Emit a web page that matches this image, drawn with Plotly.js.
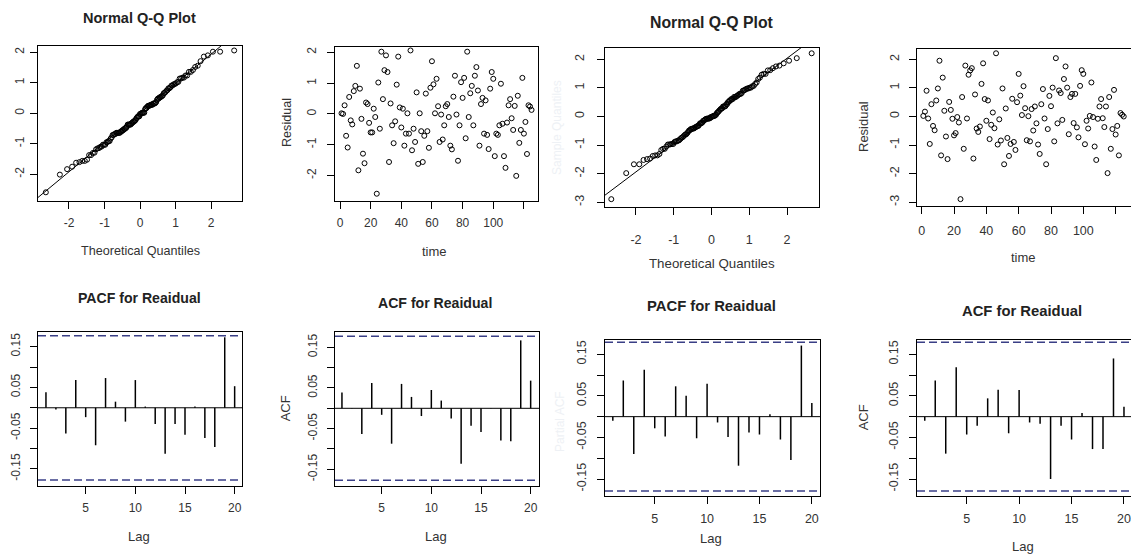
<!DOCTYPE html>
<html><head><meta charset="utf-8">
<script src="https://cdn.plot.ly/plotly-3.0.1.min.js"></script>
<style>html,body{margin:0;padding:0;background:#fff;}#chart{width:1131px;height:554px;}</style>
</head><body><div id="chart"></div>
<script>
// ---- data ----
const residual1 = [
 0.02, 0.00, 0.28, -0.71, -1.09, 0.55, -0.21, -0.34, 0.74, 0.91,
 1.56, -1.83, 0.82, -0.16, -1.29, -1.60, 0.37, 0.32, -0.29, -0.60,
 -0.60, 0.17, -0.10, -2.59, 1.02, -0.48, 2.02, 0.48, 1.42, 1.90,
 1.36, -1.56, 0.34, -0.37, -0.95, -0.24, 0.95, 1.86, 0.21, -0.44,
 0.17, -1.03, -0.64, 0.02, -0.64, 2.06, -1.18, -0.48, -0.91, 0.70,
 -1.62, 0.02, -0.56, -1.56, -0.71, 0.66, -0.56, -1.10, 0.85, 1.71,
 0.96, 0.02, 1.14, 0.25, -0.91, -0.02, -0.83, -0.37, 0.25, 0.32,
 -0.10, -1.03, -1.15, 0.56, 1.24, -0.02, -1.52, -0.37, 1.03, 0.52,
 1.17, -0.79, 2.02, -0.10, 0.67, 0.91, -0.37, 1.24, 1.52, 0.76,
 -1.03, 0.32, 0.52, -0.64, 0.44, -0.68, -1.14, 0.82, 1.36, 1.14,
 -1.37, -0.64, -0.68, -0.37, 0.98, -0.32, -1.37, -1.75, -0.28, 0.28,
 0.48, -0.14, -0.52, 0.26, -2.01, 0.59, -0.94, -0.52, 1.17, -0.64,
 -0.26, -1.30, 0.28, 0.24, 0.13
];
const residual2 = [
 0.02, 0.17, 0.90, -0.07, -0.96, 0.43, -0.33, -0.48, 0.56, 0.98,
 1.95, -1.36, 1.36, 0.20, -0.70, -1.49, 0.51, 0.23, -0.08, -0.66,
 -0.58, -0.02, -0.21, -2.89, 0.68, -1.13, 1.78, -0.07, 1.46, 1.61,
 1.69, -1.47, 0.77, -0.42, -0.54, -0.35, 1.14, 1.86, 0.61, -0.15,
 0.56, -0.79, -0.29, 0.14, -0.41, 2.21, -0.98, -0.10, -0.84, 0.98,
 -1.67, 0.28, -0.75, -1.38, -0.96, 0.62, -0.89, -1.17, 0.50, 1.49,
 0.73, 0.05, 1.06, 0.29, -0.83, 0.01, -0.87, 0.26, -0.49, 0.35,
 -0.24, -0.98, -1.31, 0.43, 0.96, -0.07, -1.67, -0.44, 0.72, 0.36,
 1.01, -0.87, 2.04, -0.24, 0.91, 0.82, -0.12, 1.31, 1.75, 1.01,
 -0.62, 0.68, 0.79, -0.23, 0.79, -0.38, -0.73, 1.07, 1.62,
 1.49, -0.97, -0.15, -0.42, 0.02, 1.19, -0.02, -1.05, -1.52, -0.08,
 0.35, 0.61, -0.06, -0.37, 0.35, -1.98, 0.68, -1.13, -0.44, 0.93,
 -0.63, -0.33, -1.36, 0.12, 0.06, 0.00
];
const lags = [1,2,3,4,5,6,7,8,9,10,11,12,13,14,15,16,17,18,19,20];
const pacf1 = [0.038,-0.004,-0.063,0.068,-0.023,-0.092,0.073,0.015,-0.034,0.068,0.003,-0.040,-0.113,-0.040,-0.066,0.003,-0.074,-0.096,0.173,0.053];
const acf1  = [0.039,0.001,-0.063,0.062,-0.016,-0.087,0.060,0.028,-0.019,0.045,0.019,-0.025,-0.136,-0.043,-0.058,0.001,-0.079,-0.081,0.167,0.068];
const pacf2 = [-0.010,0.087,-0.090,0.113,-0.028,-0.048,0.073,0.050,-0.052,0.079,-0.014,-0.049,-0.118,-0.038,-0.043,0.006,-0.055,-0.104,0.171,0.033];
const acf2  = [-0.010,0.087,-0.089,0.119,-0.043,-0.022,0.044,0.065,-0.040,0.064,-0.014,-0.017,-0.150,-0.022,-0.055,0.009,-0.078,-0.078,0.140,0.024];
const ciBound1 = 0.177;
const ciBound2 = 0.179;
const qqTicks = [-2,-1,0,1,2];
const qqTickText = ['-2','-1','0','1','2'];
const resTicks2 = [-3,-2,-1,0,1,2];
const resTickText2 = ['-3','-2','-1','0','1','2'];
const timeTicks = [0,20,40,60,80,100,120];
const timeTickText = ['0','20','40','60','80','100',''];
const lagTicks = [5,10,15,20];
const lagTickText = ['5','10','15','20'];
const acfTicks = [-0.15,-0.10,-0.05,0,0.05,0.10,0.15];
const acfTickText = ['-0.15','','-0.05','','0.05','','0.15'];

// ---- QQ plot derivation (standard normal Q-Q of the residuals above) ----
function qnorm(p){
  const a=[-3.969683028665376e+01,2.209460984245205e+02,-2.759285104469687e+02,1.383577518672690e+02,-3.066479806614716e+01,2.506628277459239e+00];
  const b=[-5.447609879822406e+01,1.615858368580409e+02,-1.556989798598866e+02,6.680131188771972e+01,-1.328068155288572e+01];
  const c=[-7.784894002430293e-03,-3.223964580411365e-01,-2.400758277161838e+00,-2.549732539343734e+00,4.374664141464968e+00,2.938163982698783e+00];
  const d=[7.784695709041462e-03,3.224671290700398e-01,2.445134137142996e+00,3.754408661907416e+00];
  const pl=0.02425;
  if(p<pl){const q=Math.sqrt(-2*Math.log(p));return (((((c[0]*q+c[1])*q+c[2])*q+c[3])*q+c[4])*q+c[5])/((((d[0]*q+d[1])*q+d[2])*q+d[3])*q+1);}
  if(p>1-pl){const q=Math.sqrt(-2*Math.log(1-p));return -(((((c[0]*q+c[1])*q+c[2])*q+c[3])*q+c[4])*q+c[5])/((((d[0]*q+d[1])*q+d[2])*q+d[3])*q+1);}
  const q=p-0.5,r=q*q;
  return (((((a[0]*r+a[1])*r+a[2])*r+a[3])*r+a[4])*r+a[5])*q/(((((b[0]*r+b[1])*r+b[2])*r+b[3])*r+b[4])*r+1);
}
function quant7(s,p){const h=(s.length-1)*p,lo=Math.floor(h);return s[lo]+(h-lo)*((s[Math.min(lo+1,s.length-1)])-s[lo]);}
function qq(res){
  const n=res.length;
  const y=res.slice().sort((u,v)=>u-v);
  const x=y.map((_,i)=>qnorm((i+0.5)/n));
  const y1=quant7(y,0.25),y3=quant7(y,0.75),x1=qnorm(0.25),x3=qnorm(0.75);
  const slope=(y3-y1)/(x3-x1),inter=y1-slope*x1;
  return {x,y,lx:[-4,4],ly:[-4*slope+inter,4*slope+inter]};
}
const qq1=qq(residual1), qq2=qq(residual2);
const time1=residual1.map((_,i)=>i+1), time2=residual2.map((_,i)=>i+1);
function stems(v){return {x:lags.flatMap(l=>[l,l,null]), y:v.flatMap(a=>[0,a,null])};}

// ---- layout geometry (pixels) ----
const W=1131,H=554,FONT='"Liberation Sans", Arial, sans-serif';
const boxes={1:[38,242,46,201],2:[335,538,47,201],3:[605,819,48,207],4:[917,1131,49,206],
             5:[38,242,332,486],6:[335,539,332,486],7:[605,820,340,496],8:[917,1131,340,496]};
const ranges={1:[[-2.873,2.873],[-2.875,2.207]],2:[[-3.26,129.2],[-2.826,2.172]],
              3:[[-2.819,2.846],[-3.164,2.395]],4:[[-2.91,129.5],[-3.13,2.36]],
              5:[[0.198,20.74],[-0.192,0.186]],6:[[0.30,20.84],[-0.191,0.1876]],
              7:[[0.253,20.78],[-0.1909,0.1844]],8:[[0.26,20.67],[-0.1909,0.1844]]};
const tickSize={1:12,2:12,3:12.5,4:12.5,5:12,6:12,7:12.5,8:12.5};
const xStand={1:4,2:4,3:14,4:6,5:4,6:4,7:4,8:4};
const yStand={1:1,2:6,3:8,4:5,5:5,6:5,7:6,8:6};
const xt={1:[qqTicks,qqTickText],2:[timeTicks,timeTickText],3:[qqTicks,qqTickText],4:[timeTicks,timeTickText],
          5:[lagTicks,lagTickText],6:[lagTicks,lagTickText],7:[lagTicks,lagTickText],8:[lagTicks,lagTickText]};
const yt={1:[qqTicks,qqTickText],2:[qqTicks,qqTickText],3:[resTicks2,resTickText2],4:[resTicks2,resTickText2],
          5:[acfTicks,acfTickText],6:[acfTicks,acfTickText],7:[acfTicks,acfTickText],8:[acfTicks,acfTickText]};

const layout={width:W,height:H,margin:{l:0,r:0,t:0,b:0},paper_bgcolor:'#fff',plot_bgcolor:'#fff',
  showlegend:false,font:{family:FONT,color:'#333'},shapes:[],annotations:[]};
for(let k=1;k<=8;k++){
  const b=boxes[k],sfx=k===1?'':String(k);
  const base={showline:true,mirror:true,linecolor:'#000',linewidth:1,ticks:'outside',ticklen:7,tickcolor:'#000',
    tickwidth:1,showgrid:false,zeroline:false,fixedrange:true,tickfont:{family:FONT,size:tickSize[k],color:'#333'}};
  layout['xaxis'+sfx]=Object.assign({},base,{domain:[b[0]/W,b[1]/W],range:ranges[k][0],anchor:'y'+sfx,tickmode:'array',
    tickvals:xt[k][0],ticktext:xt[k][1],ticklabelstandoff:xStand[k]});
  layout['yaxis'+sfx]=Object.assign({},base,{domain:[1-b[3]/H,1-b[2]/H],range:ranges[k][1],anchor:'x'+sfx,tickmode:'array',
    tickvals:yt[k][0],ticktext:yt[k][1],tickangle:-90,ticklabelstandoff:yStand[k]});
}
// zero and confidence lines for correlograms
[[5,ciBound1],[6,ciBound1],[7,ciBound2],[8,ciBound2]].forEach(([k,ci])=>{
  layout.shapes.push({type:'line',xref:'x'+k+' domain',x0:0,x1:1,yref:'y'+k,y0:0,y1:0,line:{color:'#000',width:1}});
  [ci,-ci].forEach(v=>layout.shapes.push({type:'line',xref:'x'+k+' domain',x0:0,x1:1,yref:'y'+k,y0:v,y1:v,
    line:{color:'#3a3f86',width:1.5,dash:'8px,4px'}}));
});
function ann(text,px,py,size,opts){
  layout.annotations.push(Object.assign({text:text,xref:'paper',yref:'paper',x:px/W,y:1-py/H,xanchor:'center',yanchor:'middle',
    showarrow:false,font:{family:FONT,size:size,color:'#333'}},opts||{}));
}
const bold=(s,c)=>({font:{family:FONT,size:s,color:c||'#222',weight:'bold'}});
const faint={textangle:-90,font:{family:FONT,size:12,color:'#eef1f5'}};
ann('Normal Q-Q Plot',139,18,14.5,bold(14.5));
ann('Theoretical Quantiles',140,251,12.6);
ann('time',434.5,251,13);
ann('Residual',287,123,12.6,{textangle:-90});
ann('Normal Q-Q Plot',711.5,22.7,15.8,bold(15.8));
ann('Theoretical Quantiles',711.5,263.3,13.3);
ann('Sample Quantiles',557,128,12,faint);
ann('Residual',863,127,13,{textangle:-90});
ann('time',1023,257.3,13);
ann('PACF for Reaidual',139,298.3,14.1,bold(14.1));
ann('Lag',139,536.7,13);
ann('ACF for Reaidual',434.5,303.3,14.1,bold(14.1));
ann('ACF',285,408.3,13,{textangle:-90});
ann('Lag',435.8,536.7,13);
ann('PACF for Reaidual',711,306,14.8,bold(14.8));
ann('Lag',710.8,538.3,13);
ann('Partial ACF',560,422,12,faint);
ann('ACF for Reaidual',1022.3,311,14.8,bold(14.8));
ann('ACF',863.3,417,13,{textangle:-90});
ann('Lag',1023.3,546.7,13);

const pt={mode:'markers',marker:{symbol:'circle-open',size:5,color:'#000',line:{width:1,color:'#000'}},hoverinfo:'skip'};
const ln={mode:'lines',line:{color:'#000',width:1},hoverinfo:'skip'};
const st={mode:'lines',line:{color:'#000',width:1.5},hoverinfo:'skip'};
const data=[
  Object.assign({x:qq1.lx,y:qq1.ly,xaxis:'x',yaxis:'y'},ln),
  Object.assign({x:qq1.x,y:qq1.y,xaxis:'x',yaxis:'y'},pt),
  Object.assign({x:time1,y:residual1,xaxis:'x2',yaxis:'y2'},pt),
  Object.assign({x:qq2.lx,y:qq2.ly,xaxis:'x3',yaxis:'y3'},ln),
  Object.assign({x:qq2.x,y:qq2.y,xaxis:'x3',yaxis:'y3'},pt),
  Object.assign({x:time2,y:residual2,xaxis:'x4',yaxis:'y4'},pt),
  Object.assign(stems(pacf1),{xaxis:'x5',yaxis:'y5'},st),
  Object.assign(stems(acf1),{xaxis:'x6',yaxis:'y6'},st),
  Object.assign(stems(pacf2),{xaxis:'x7',yaxis:'y7'},st),
  Object.assign(stems(acf2),{xaxis:'x8',yaxis:'y8'},st)
];
Plotly.newPlot('chart',data,layout,{staticPlot:true,displayModeBar:false});
</script></body></html>
